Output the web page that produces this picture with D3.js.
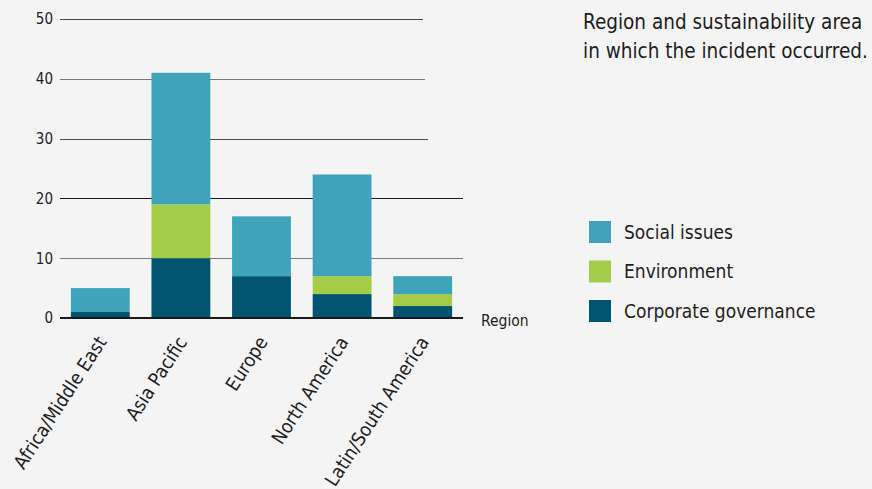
<!DOCTYPE html>
<html>
<head>
<meta charset="utf-8">
<script src="https://cdn.jsdelivr.net/npm/d3@7"></script>
<style>
  html, body { margin: 0; padding: 0; background: #f4f4f4; }
  svg { display: block; }
  text { font-family: "DejaVu Sans Condensed", "DejaVu Sans", sans-serif; font-stretch: condensed; fill: #1e1e1e; }
</style>
</head>
<body>
<svg id="chart" width="872" height="489"></svg>
<script>
// Incidents by region, stacked by sustainability area
const regions = ["Africa/Middle East", "Asia Pacific", "Europe", "North America", "Latin/South America"];
const governance = [1, 10, 7, 4, 2];
const environment = [0, 9, 0, 3, 2];
const social = [4, 22, 10, 17, 3];
const yTicks = [0, 10, 20, 30, 40, 50];
const seriesNames = ["Corporate governance", "Environment", "Social issues"];
const legendOrder = ["Social issues", "Environment", "Corporate governance"];
const titleLines = ["Region and sustainability area", "in which the incident occurred."];
const axisTitle = "Region";

const colors = {
  "Corporate governance": "#025471",
  "Environment": "#a3cd48",
  "Social issues": "#3fa3bb"
};

const rows = regions.map((r, i) => ({
  region: r,
  "Corporate governance": governance[i],
  "Environment": environment[i],
  "Social issues": social[i]
}));

const svg = d3.select("#chart");
const x = d3.scaleBand().domain(regions).range([60, 463])
  .paddingInner(0.27).paddingOuter(0.135);
const y = d3.scaleLinear().domain([0, 50]).range([318, 19]);

// Horizontal gridlines; the upper ones stop short of the right edge
const gridStyle = {
  10: { end: 463, color: "#7a7a7a" },
  20: { end: 463, color: "#1a1a1a" },
  30: { end: 428, color: "#4a4a4a" },
  40: { end: 425, color: "#777777" },
  50: { end: 423, color: "#444444" }
};
svg.append("g").selectAll("line")
  .data(yTicks.filter(v => v > 0))
  .join("line")
  .attr("x1", 60).attr("x2", d => gridStyle[d].end)
  .attr("y1", d => Math.round(y(d)) + 0.5).attr("y2", d => Math.round(y(d)) + 0.5)
  .attr("stroke", d => gridStyle[d].color).attr("stroke-width", 1.2);

// Stacked bars
const stack = d3.stack().keys(seriesNames)(rows);
svg.append("g").selectAll("g")
  .data(stack)
  .join("g")
  .attr("fill", d => colors[d.key])
  .selectAll("rect")
  .data(d => d)
  .join("rect")
  .attr("x", d => x(d.data.region))
  .attr("width", x.bandwidth())
  .attr("y", d => y(d[1]))
  .attr("height", d => y(d[0]) - y(d[1]));

// Baseline
svg.append("line")
  .attr("x1", 60).attr("x2", 463)
  .attr("y1", y(0)).attr("y2", y(0))
  .attr("stroke", "#1a1a1a").attr("stroke-width", 2);

// Y tick labels
svg.append("g").selectAll("text")
  .data(yTicks)
  .join("text")
  .attr("x", 53)
  .attr("y", d => y(d))
  .attr("dy", "0.36em")
  .attr("text-anchor", "end")
  .style("font-size", "15px")
  .text(d => d);

// Rotated category labels
svg.append("g").selectAll("text")
  .data(regions)
  .join("text")
  .attr("transform", d => `translate(${x(d) + x.bandwidth() / 2 + 7},${y(0) + 24}) rotate(-57)`)
  .attr("text-anchor", "end")
  .style("font-size", "19px")
  .text(d => d);

// Axis title
svg.append("text")
  .attr("x", 481).attr("y", y(0) + 8)
  .style("font-size", "15.5px")
  .text(axisTitle);

// Chart caption
svg.append("g").selectAll("text")
  .data(titleLines)
  .join("text")
  .attr("x", 583)
  .attr("y", (d, i) => 29 + i * 29)
  .style("font-size", "20.5px")
  .text(d => d);

// Legend
const legend = svg.append("g").selectAll("g")
  .data(legendOrder)
  .join("g")
  .attr("transform", (d, i) => `translate(589,${221 + i * 39.5})`);
legend.append("rect").attr("width", 22).attr("height", 22).attr("fill", d => colors[d]);
legend.append("text").attr("x", 35).attr("y", 11).attr("dy", "0.36em")
  .style("font-size", "19px").text(d => d);
</script>
</body>
</html>
